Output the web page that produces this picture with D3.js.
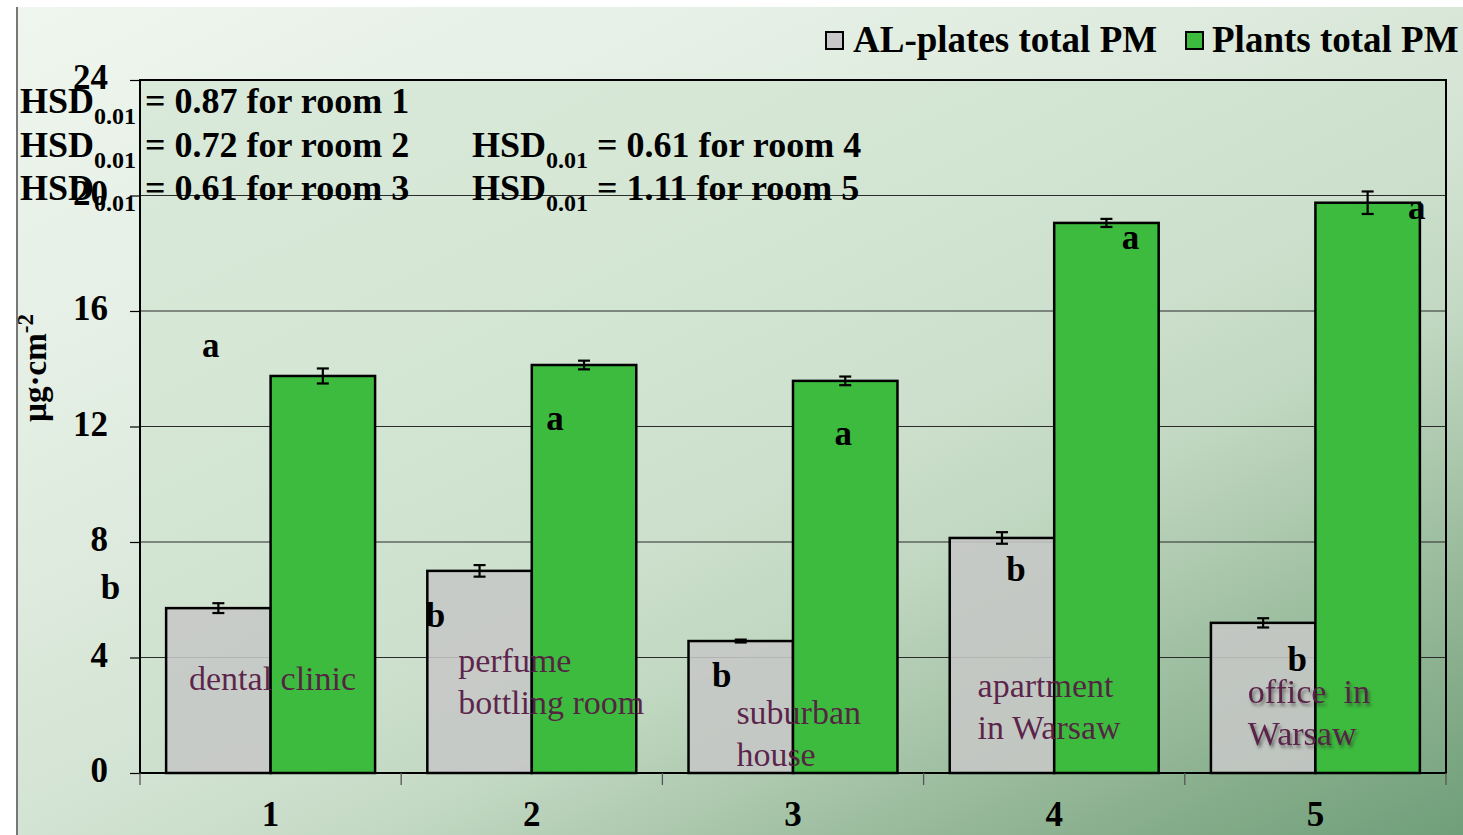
<!DOCTYPE html>
<html>
<head>
<meta charset="utf-8">
<script src="https://cdn.jsdelivr.net/npm/d3@7"></script>
<style>
  html, body { margin: 0; padding: 0; background: #ffffff; }
  svg { display: block; }
</style>
</head>
<body>
<svg id="chart" width="1463" height="835"></svg>
<script>
// Room numbers on the x axis
const rooms = ["1", "2", "3", "4", "5"];
// Series names (legend order)
const seriesNames = ["AL-plates total PM", "Plants total PM"];
// Mean total PM deposit, µg·cm-2
const alPlates = [5.71, 7.00, 4.57, 8.14, 5.20];
const alPlatesErr = [0.17, 0.20, 0.05, 0.20, 0.16];
const plants = [13.75, 14.13, 13.58, 19.05, 19.75];
const plantsErr = [0.26, 0.15, 0.15, 0.14, 0.39];
// Y-axis ticks
const yTicks = [0, 4, 8, 12, 16, 20, 24];
// Room descriptions written inside each group
const roomNames = [
  ["dental clinic"],
  ["perfume", "bottling room"],
  ["suburban", "house"],
  ["apartment", "in Warsaw"],
  ["office  in", "Warsaw"]
];
// Tukey HSD (p = 0.01) per room
const hsdValues = ["0.87", "0.72", "0.61", "0.61", "1.11"];
// Significance letters per series
const alLetters = ["b", "b", "b", "b", "b"];
const plantLetters = ["a", "a", "a", "a", "a"];

// ---- layout ----
const W = 1463, H = 835;
const plot = { left: 140, right: 1446, top: 80, bottom: 773 };
// letter placement: horizontal offset from bar centre (px) and baseline level (value units)
const alLetterPos = [[-108, 6.03], [-44, 5.06], [-19, 2.98], [14, 6.65], [34, 3.53]];
const plantLetterPos = [[-112, 14.41], [-29, 11.88], [-2, 11.36], [24, 18.15], [49, 19.19]];
// room description placement: offset from group's left edge (px), first baseline (value units)
const roomNamePos = [[49, 2.87], [57, 3.50], [74, 1.70], [54, 2.63], [63, 2.42]];

const serif = "'Liberation Serif', 'Times New Roman', serif";
const svg = d3.select("#chart");
const defs = svg.append("defs");

function addGrad(id, stops) {
  const g = defs.append("linearGradient").attr("id", id)
    .attr("gradientUnits", "userSpaceOnUse")
    .attr("x1", 0).attr("y1", 0).attr("x2", 601).attr("y2", 1250);
  stops.forEach(s => g.append("stop").attr("offset", s[0]).attr("stop-color", s[1]));
}
addGrad("bgGrad", [[0, "#eff6ef"], [0.3, "#e3eee3"], [0.55, "#d3e3d3"], [0.65, "#c5dac5"], [0.89, "#88ae8c"], [1, "#6f9f79"]]);
addGrad("plotGrad", [[0, "#dcebdc"], [0.3, "#d6e7d6"], [0.55, "#cde0cd"], [0.65, "#c2d8c2"], [0.89, "#8ab08e"], [1, "#74a27e"]]);

const shadow = defs.append("filter").attr("id", "txtShadow")
  .attr("x", "-10%").attr("y", "-20%").attr("width", "130%").attr("height", "150%");
shadow.append("feDropShadow").attr("dx", 2).attr("dy", 3).attr("stdDeviation", 1.6)
  .attr("flood-color", "#2a2a2a").attr("flood-opacity", 0.55);

// page background
svg.append("rect").attr("x", 0).attr("y", 0).attr("width", W).attr("height", H).attr("fill", "#ffffff");
svg.append("rect").attr("x", 18).attr("y", 7).attr("width", W - 18).attr("height", H - 7)
  .attr("fill", "url(#bgGrad)");
svg.append("line").attr("x1", 17).attr("x2", 17).attr("y1", 7).attr("y2", H)
  .attr("stroke", "#777").attr("stroke-width", 2);

// scales
const x0 = d3.scaleBand().domain(rooms).range([plot.left, plot.right]).padding(0);
const x1 = d3.scaleBand().domain(seriesNames).range([0, x0.bandwidth()])
  .paddingInner(0).paddingOuter(0.25);
const y = d3.scaleLinear().domain([0, 24]).range([plot.bottom, plot.top]);

// plot area
svg.append("rect").attr("x", plot.left).attr("y", plot.top)
  .attr("width", plot.right - plot.left).attr("height", plot.bottom - plot.top)
  .attr("fill", "url(#plotGrad)");

// gridlines
svg.append("g").selectAll("line").data(yTicks.filter(t => t > 0 && t < 24)).join("line")
  .attr("x1", plot.left).attr("x2", plot.right)
  .attr("y1", d => y(d)).attr("y2", d => y(d))
  .attr("stroke", "#2b2b2b").attr("stroke-width", 1.2);

// bars
const seriesData = [
  { name: seriesNames[0], values: alPlates, err: alPlatesErr, fill: "#c6c7c6", opacity: 0.88 },
  { name: seriesNames[1], values: plants, err: plantsErr, fill: "#3dbb3e", opacity: 1 }
];
const barG = svg.append("g");
seriesData.forEach(s => {
  barG.selectAll(null).data(rooms).join("rect")
    .attr("x", (r) => x0(r) + x1(s.name))
    .attr("y", (r, i) => y(s.values[i]))
    .attr("width", x1.bandwidth())
    .attr("height", (r, i) => y(0) - y(s.values[i]))
    .attr("fill", s.fill).attr("fill-opacity", s.opacity)
    .attr("stroke", "#000").attr("stroke-width", 2.5);
});

// error bars
const errG = svg.append("g").attr("stroke", "#000").attr("stroke-width", 2.2);
seriesData.forEach(s => {
  rooms.forEach((r, i) => {
    const cx = x0(r) + x1(s.name) + x1.bandwidth() / 2;
    const lo = y(s.values[i] - s.err[i]), hi = y(s.values[i] + s.err[i]);
    errG.append("line").attr("x1", cx).attr("x2", cx).attr("y1", lo).attr("y2", hi);
    errG.append("line").attr("x1", cx - 6).attr("x2", cx + 6).attr("y1", lo).attr("y2", lo);
    errG.append("line").attr("x1", cx - 6).attr("x2", cx + 6).attr("y1", hi).attr("y2", hi);
  });
});

// plot frame
svg.append("rect").attr("x", plot.left).attr("y", plot.top)
  .attr("width", plot.right - plot.left).attr("height", plot.bottom - plot.top)
  .attr("fill", "none").attr("stroke", "#000").attr("stroke-width", 2);

// y axis
const yAxis = svg.append("g").attr("transform", `translate(${plot.left},0)`)
  .call(d3.axisLeft(y).tickValues(yTicks).tickSize(10).tickPadding(22).tickFormat(d3.format("d")));
yAxis.select(".domain").remove();
yAxis.selectAll(".tick line").attr("stroke", "#000").attr("stroke-width", 1.2);
yAxis.selectAll(".tick text").attr("fill", "#000")
  .style("font-family", serif).style("font-weight", "bold").style("font-size", "35px")
  .attr("dy", "0.25em");

// x axis: labels at group centres, ticks at group boundaries
const xAxis = svg.append("g").attr("transform", `translate(0,${plot.bottom})`)
  .call(d3.axisBottom(x0).tickSize(0).tickPadding(28));
xAxis.select(".domain").remove();
xAxis.selectAll(".tick text").attr("fill", "#000")
  .style("font-family", serif).style("font-weight", "bold").style("font-size", "35px");
const bounds = rooms.map(r => x0(r)).concat([x0(rooms[rooms.length - 1]) + x0.bandwidth()]);
svg.append("g").selectAll("line").data(bounds).join("line")
  .attr("x1", d => d).attr("x2", d => d).attr("y1", plot.bottom).attr("y2", plot.bottom + 12)
  .attr("stroke", "#555").attr("stroke-width", 1.3);

// y axis title
const yTitle = svg.append("text")
  .attr("transform", `translate(46,368) rotate(-90)`)
  .attr("text-anchor", "middle")
  .style("font-family", serif).style("font-weight", "bold").style("font-size", "33px").attr("fill", "#000");
yTitle.append("tspan").text("µg·cm");
yTitle.append("tspan").attr("dy", -13).style("font-size", "23px").text("-2");

// significance letters
const letterStyle = sel => sel.attr("text-anchor", "middle").attr("fill", "#000")
  .style("font-family", serif).style("font-weight", "bold").style("font-size", "35px");
svg.append("g").selectAll("text").data(rooms).join("text")
  .attr("x", (r, i) => x0(r) + x1(seriesNames[0]) + x1.bandwidth() / 2 + alLetterPos[i][0])
  .attr("y", (r, i) => y(alLetterPos[i][1]))
  .text((r, i) => alLetters[i]).call(letterStyle);
svg.append("g").selectAll("text").data(rooms).join("text")
  .attr("x", (r, i) => x0(r) + x1(seriesNames[1]) + x1.bandwidth() / 2 + plantLetterPos[i][0])
  .attr("y", (r, i) => y(plantLetterPos[i][1]))
  .text((r, i) => plantLetters[i]).call(letterStyle);

// room descriptions
rooms.forEach((r, i) => {
  const t = svg.append("text")
    .attr("fill", "#561a44").attr("fill-opacity", 0.95)
    .style("font-family", serif).style("font-size", "34px").style("white-space", "pre");
  if (i === 4) t.attr("filter", "url(#txtShadow)");
  roomNames[i].forEach((line, k) => {
    t.append("tspan").attr("x", x0(r) + roomNamePos[i][0])
      .attr("y", y(roomNamePos[i][1]) + k * 42).text(line);
  });
});

// HSD annotations
const hsdPos = [[20, 113], [20, 157], [20, 200], [472, 157], [472, 200]];
hsdValues.forEach((v, i) => {
  const t = svg.append("text").attr("x", hsdPos[i][0]).attr("y", hsdPos[i][1]).attr("fill", "#000")
    .style("font-family", serif).style("font-weight", "bold").style("font-size", "36px");
  t.append("tspan").text("HSD");
  t.append("tspan").attr("dy", 11).style("font-size", "24px").text("0.01");
  t.append("tspan").attr("dy", -11).attr("dx", 9).text(`= ${v} for room ${i + 1}`);
});

// legend
const legendItems = [
  { name: seriesNames[0], fill: "#c8c8c8", x: 826, tx: 853 },
  { name: seriesNames[1], fill: "#3dbb3e", x: 1186, tx: 1212 }
];
const lg = svg.append("g");
legendItems.forEach(it => {
  lg.append("rect").attr("x", it.x).attr("y", 32).attr("width", 17).attr("height", 17)
    .attr("fill", it.fill).attr("stroke", "#000").attr("stroke-width", 2);
  lg.append("text").attr("x", it.tx).attr("y", 52).attr("fill", "#000")
    .style("font-family", serif).style("font-weight", "bold").style("font-size", "37px")
    .text(it.name);
});
</script>
</body>
</html>
